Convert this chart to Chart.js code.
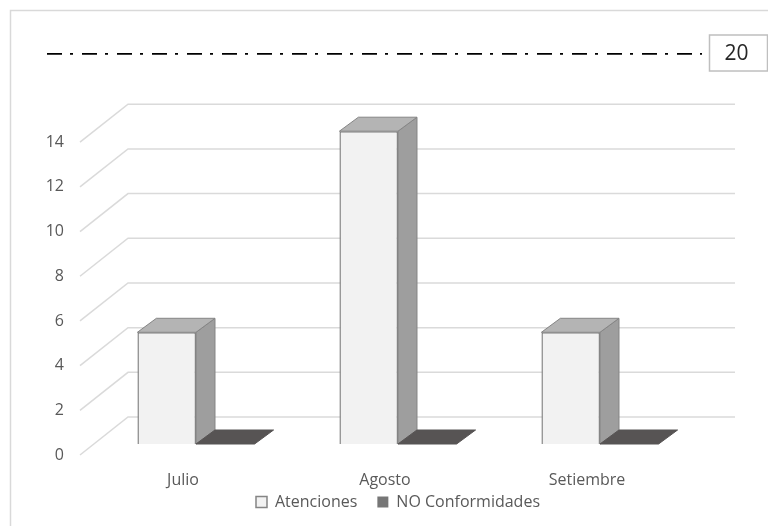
<!DOCTYPE html>
<html>
<head>
<meta charset="utf-8">
<script src="https://cdn.jsdelivr.net/npm/chart.js@4.4.1/dist/chart.umd.min.js"></script>
<style>
  html, body { margin: 0; padding: 0; background: #ffffff; }
  #wrap { width: 768px; height: 526px; position: relative; }
</style>
</head>
<body>
<div id="wrap"><canvas id="c" width="768" height="526"></canvas></div>
<script>
// Datos
const MESES = ['Julio', 'Agosto', 'Setiembre'];
const ATENCIONES = [5, 14, 5];
const NO_CONFORMIDADES = [0, 0, 0];
const META = 20;
const Y_TICKS = [0, 2, 4, 6, 8, 10, 12, 14];

// Rango de ejes
const X_MIN = -0.7376;
const X_MAX = 2.505;
const Y_MAX = 17.5;

const TEXT = '#595959';
const FONT = '"Open Sans", "Liberation Sans", sans-serif';

// Profundidad de las columnas y del piso/pared en perspectiva
const DEPTH = { dx: 19, dy: -14 };
const FACES = [
  { side: '#9e9e9e', top: '#b4b4b4', edge: '#858585' },
  { side: '#4d4a4a', top: '#575454', edge: '#575454' }
];

function poly(ctx, pts, fill, stroke) {
  ctx.beginPath();
  ctx.moveTo(pts[0][0], pts[0][1]);
  for (let i = 1; i < pts.length; i++) ctx.lineTo(pts[i][0], pts[i][1]);
  ctx.closePath();
  ctx.fillStyle = fill;
  ctx.fill();
  if (stroke) {
    ctx.strokeStyle = stroke;
    ctx.lineWidth = 1;
    ctx.stroke();
  }
}

const escena3D = {
  id: 'escena3D',
  beforeLayout(chart) {
    // altura fija para la leyenda inferior
    const lg = chart.legend;
    if (lg && !lg._altoFijo) {
      const fit = lg.fit.bind(lg);
      lg.fit = function () { fit(); this.height = 36; };
      lg._altoFijo = true;
    }
  },
  afterLayout(chart) {
    // la leyenda queda pegada bajo las etiquetas de los meses
    const lg = chart.legend;
    if (lg) { lg.top -= 16; lg.bottom -= 16; }
  },
  beforeDraw(chart) {
    const ctx = chart.ctx;
    ctx.save();
    ctx.fillStyle = '#ffffff';
    ctx.fillRect(0, 0, chart.width, chart.height);
    ctx.strokeStyle = '#d9d9d9';
    ctx.lineWidth = 1.5;
    ctx.strokeRect(10.5, 10.5, chart.width + 40, chart.height + 40);
    ctx.restore();
  },
  beforeDatasetsDraw(chart) {
    const ctx = chart.ctx;
    const y = chart.scales.y;
    const a = chart.chartArea;
    const frontX = a.left + 33, backX = a.left + 81, rightX = a.right + 33;
    ctx.save();
    ctx.strokeStyle = '#dadada';
    ctx.lineWidth = 1.5;
    ctx.font = '16px ' + FONT;
    ctx.fillStyle = TEXT;
    ctx.textAlign = 'right';
    ctx.textBaseline = 'middle';
    Y_TICKS.forEach(v => {
      const py = y.getPixelForValue(v);
      ctx.beginPath();
      ctx.moveTo(frontX, py + 11);
      ctx.lineTo(backX, py - 27);
      ctx.lineTo(rightX, py - 27);
      ctx.stroke();
      ctx.fillText(String(v), a.left + 17, py + 11);
    });
    ctx.restore();
  },
  afterDatasetsDraw(chart) {
    const ctx = chart.ctx;
    ctx.save();
    [0, 1].forEach(di => {
      const meta = chart.getDatasetMeta(di);
      const f = FACES[di];
      meta.data.forEach(bar => {
        const { x, y, base, width } = bar.getProps(['x', 'y', 'base', 'width'], true);
        const l = x - width / 2, r = x + width / 2;
        const { dx, dy } = DEPTH;
        if (base - y > 0.5) {
          poly(ctx, [[r, y], [r + dx, y + dy], [r + dx, base + dy], [r, base]], f.side, f.edge);
        }
        poly(ctx, [[l, y], [l + dx, y + dy], [r + dx, y + dy], [r, y]], f.top, f.edge);
      });
    });
    ctx.restore();
  },
  afterDraw(chart) {
    // Etiqueta del valor de la meta
    const ctx = chart.ctx;
    const meta = chart.getDatasetMeta(2);
    const last = meta.data[meta.data.length - 1];
    const py = chart.scales.yT.getPixelForValue(META);
    const bx = last.x + 7.5;
    ctx.save();
    ctx.fillStyle = '#ffffff';
    ctx.fillRect(bx, py - 18, 58, 36);
    ctx.strokeStyle = '#bfbfbf';
    ctx.lineWidth = 1.5;
    ctx.strokeRect(bx, py - 18, 58, 36);
    ctx.fillStyle = '#262626';
    ctx.font = '21px ' + FONT;
    ctx.textAlign = 'center';
    ctx.textBaseline = 'middle';
    ctx.fillText(String(META), bx + 27, py + 1);
    ctx.restore();
  }
};

new Chart(document.getElementById('c'), {
  data: {
    datasets: [
      {
        type: 'bar',
        label: 'Atenciones',
        data: ATENCIONES.map((v, i) => ({ x: i, y: v })),
        backgroundColor: '#f2f2f2',
        borderColor: '#858585',
        borderWidth: 1.5,
        xAxisID: 'x',
        yAxisID: 'y',
        categoryPercentage: 0.58,
        barPercentage: 1
      },
      {
        type: 'bar',
        label: 'NO Conformidades',
        data: NO_CONFORMIDADES.map((v, i) => ({ x: i, y: v })),
        backgroundColor: '#767676',
        borderColor: '#9a9a9a',
        borderWidth: 0,
        xAxisID: 'x',
        yAxisID: 'y',
        categoryPercentage: 0.58,
        barPercentage: 1
      },
      {
        type: 'line',
        label: 'Meta',
        data: [{ x: X_MIN, y: META }, { x: X_MAX, y: META }],
        borderColor: '#000000',
        borderWidth: 3.5,
        borderDash: [15, 8, 3, 9],
        borderCapStyle: 'butt',
        pointRadius: 0,
        fill: false,
        xAxisID: 'x',
        yAxisID: 'yT'
      }
    ]
  },
  options: {
    responsive: false,
    animation: false,
    devicePixelRatio: 1,
    layout: { padding: { left: 28, right: 0, top: 53, bottom: 0 } },
    scales: {
      x: {
        type: 'linear',
        offset: false,
        min: X_MIN,
        max: X_MAX,
        grid: { display: false, drawTicks: false },
        border: { display: false },
        afterBuildTicks: (s) => { s.ticks = MESES.map((_, i) => ({ value: i })); },
        afterFit: (s) => { s.height = 46; },
        ticks: {
          padding: 28,
          labelOffset: -13,
          maxRotation: 0,
          autoSkip: false,
          color: TEXT,
          font: { family: FONT, size: 16, lineHeight: 1 },
          callback: (v) => MESES[v] ?? ''
        }
      },
      y: {
        position: 'left',
        min: 0,
        max: Y_MAX,
        grid: { display: false, drawTicks: false },
        border: { display: false },
        ticks: { display: false },
        afterFit: (s) => { s.width = 19; }
      },
      yT: {
        position: 'right',
        min: 0,
        max: META,
        grid: { display: false, drawTicks: false },
        border: { display: false },
        ticks: { display: false },
        afterFit: (s) => { s.width = 66; }
      }
    },
    plugins: {
      tooltip: { enabled: false },
      legend: {
        position: 'bottom',
        labels: {
          filter: (item) => item.datasetIndex < 2,
          boxWidth: 11,
          boxHeight: 11,
          padding: 20,
          color: TEXT,
          font: { family: FONT, size: 16 }
        }
      }
    }
  },
  plugins: [escena3D]
});
</script>
</body>
</html>
